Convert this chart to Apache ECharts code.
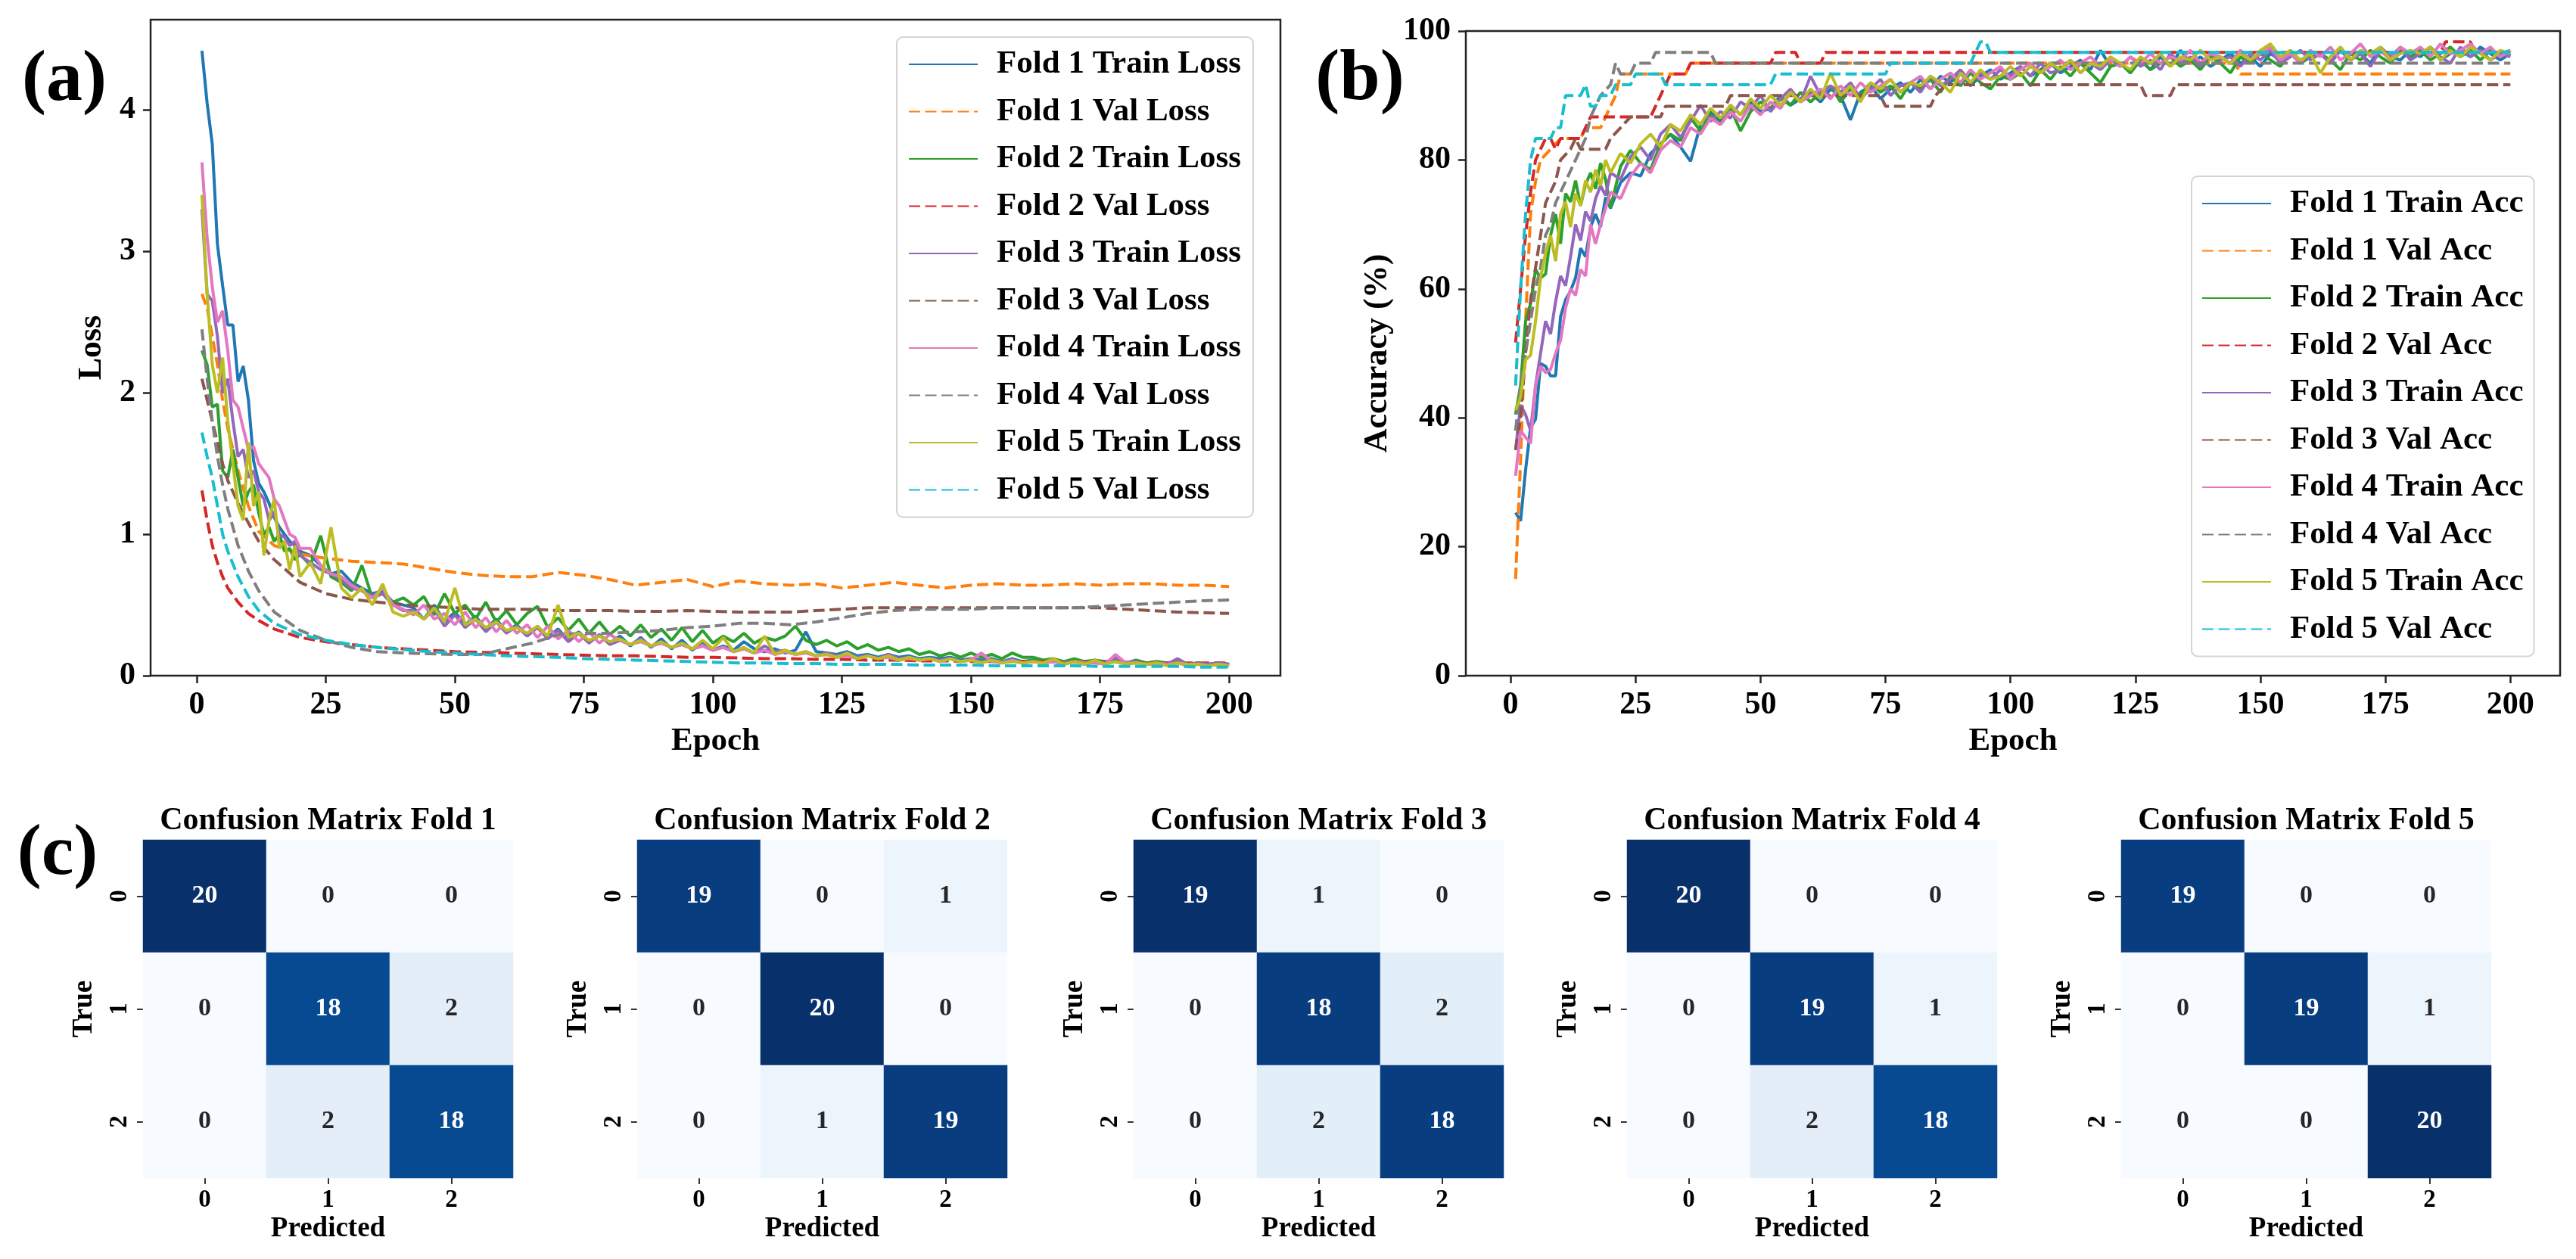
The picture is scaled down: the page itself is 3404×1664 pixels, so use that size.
<!DOCTYPE html>
<html>
<head>
<meta charset="utf-8">
<script src="https://cdn.jsdelivr.net/npm/echarts@6/dist/echarts.min.js"></script>
<style>
  html, body { margin: 0; padding: 0; background: #fff; }
  #chart { width: 3404px; height: 1664px; }
</style>
</head>
<body>
<div id="chart"></div>
<script>
const epochs = [
  1, 2, 3, 4, 5, 6, 7, 8, 9, 10, 11, 12, 13, 14, 15, 16, 17, 18, 19, 20,
  22, 24, 26, 28, 30, 32, 34, 36, 38, 40,
  42, 44, 46, 48, 50, 52, 54, 56, 58, 60,
  62, 64, 66, 68, 70, 72, 74, 76, 78, 80,
  82, 84, 86, 88, 90, 92, 94, 96, 98, 100,
  102, 104, 106, 108, 110, 112, 114, 116, 118, 120,
  122, 124, 126, 128, 130, 132, 134, 136, 138, 140,
  142, 144, 146, 148, 150, 152, 154, 156, 158, 160,
  162, 164, 166, 168, 170, 172, 174, 176, 178, 180,
  182, 184, 186, 188, 190, 192, 194, 196, 198, 200
]

const trainLoss1 = [
  4.42, 4.05, 3.76, 3.05, 2.76, 2.48, 2.48, 2.08, 2.19, 1.95, 1.52, 1.36, 1.30, 1.22, 1.12, 1.05, 1.00, 0.95, 0.92, 0.88,
  0.85, 0.78, 0.72, 0.74, 0.66, 0.62, 0.58, 0.60, 0.52, 0.50,
  0.48, 0.40, 0.50, 0.38, 0.45, 0.36, 0.42, 0.33, 0.40, 0.31,
  0.36, 0.28, 0.35, 0.27, 0.33, 0.25, 0.31, 0.24, 0.29, 0.23,
  0.28, 0.21, 0.27, 0.20, 0.26, 0.19, 0.25, 0.18, 0.24, 0.18,
  0.21, 0.18, 0.24, 0.19, 0.17, 0.19, 0.16, 0.18, 0.31, 0.17,
  0.16, 0.15, 0.17, 0.14, 0.15, 0.13, 0.15, 0.13, 0.14, 0.12,
  0.13, 0.12, 0.13, 0.11, 0.12, 0.11, 0.12, 0.10, 0.12, 0.10,
  0.11, 0.10, 0.11, 0.09, 0.10, 0.09, 0.11, 0.09, 0.10, 0.09,
  0.10, 0.08, 0.09, 0.08, 0.10, 0.08, 0.09, 0.08, 0.09, 0.08
]
const trainLoss2 = [
  2.30, 2.20, 1.90, 1.92, 1.45, 1.40, 1.60, 1.40, 1.20, 1.30, 1.35, 1.15, 1.00, 1.05, 0.95, 1.00, 0.88, 0.90, 0.82, 0.86,
  0.78, 0.99, 0.70, 0.66, 0.60, 0.78, 0.55, 0.58, 0.52, 0.55,
  0.50, 0.56, 0.43, 0.58, 0.44, 0.50, 0.40, 0.52, 0.38, 0.46,
  0.36, 0.44, 0.49, 0.34, 0.41, 0.32, 0.40, 0.30, 0.38, 0.29,
  0.35, 0.28, 0.36, 0.27, 0.33, 0.25, 0.34, 0.24, 0.32, 0.23,
  0.28, 0.24, 0.30, 0.23, 0.27, 0.25, 0.28, 0.35, 0.25, 0.22,
  0.25, 0.21, 0.24, 0.19, 0.22, 0.18, 0.20, 0.17, 0.19, 0.15,
  0.17, 0.14, 0.16, 0.13, 0.16, 0.13, 0.15, 0.12, 0.16, 0.13,
  0.13, 0.11, 0.12, 0.10, 0.12, 0.10, 0.11, 0.10, 0.11, 0.09,
  0.11, 0.09, 0.10, 0.09, 0.10, 0.08, 0.09, 0.08, 0.09, 0.08
]
const trainLoss3 = [
  3.30, 2.70, 2.65, 2.40, 2.00, 2.10, 1.80, 1.55, 1.60, 1.40, 1.45, 1.30, 1.25, 1.10, 1.15, 1.00, 0.98, 0.92, 0.95, 0.85,
  0.80, 0.75, 0.72, 0.68, 0.62, 0.60, 0.56, 0.58, 0.50, 0.46,
  0.46, 0.40, 0.47, 0.35, 0.43, 0.34, 0.40, 0.31, 0.38, 0.30,
  0.35, 0.28, 0.34, 0.26, 0.32, 0.24, 0.30, 0.23, 0.29, 0.22,
  0.25, 0.22, 0.26, 0.21, 0.23, 0.20, 0.22, 0.19, 0.21, 0.18,
  0.20, 0.17, 0.19, 0.16, 0.21, 0.17, 0.18, 0.15, 0.17, 0.14,
  0.16, 0.14, 0.15, 0.13, 0.14, 0.12, 0.15, 0.12, 0.13, 0.11,
  0.12, 0.11, 0.12, 0.10, 0.12, 0.10, 0.11, 0.10, 0.11, 0.09,
  0.10, 0.09, 0.10, 0.09, 0.10, 0.08, 0.10, 0.09, 0.13, 0.09,
  0.10, 0.08, 0.09, 0.08, 0.12, 0.08, 0.09, 0.08, 0.09, 0.08
]
const trainLoss4 = [
  3.63, 3.10, 2.75, 2.50, 2.58, 2.30, 1.95, 1.90, 1.75, 1.60, 1.62, 1.50, 1.45, 1.40, 1.25, 1.20, 1.10, 1.00, 0.98, 0.90,
  0.90, 0.78, 0.72, 0.70, 0.64, 0.60, 0.55, 0.62, 0.50, 0.47,
  0.43, 0.50, 0.40, 0.44, 0.36, 0.45, 0.34, 0.41, 0.31, 0.39,
  0.30, 0.36, 0.27, 0.35, 0.26, 0.32, 0.24, 0.31, 0.23, 0.29,
  0.25, 0.22, 0.24, 0.21, 0.23, 0.20, 0.22, 0.19, 0.21, 0.18,
  0.20, 0.17, 0.19, 0.16, 0.18, 0.15, 0.17, 0.15, 0.16, 0.14,
  0.15, 0.13, 0.14, 0.12, 0.14, 0.12, 0.13, 0.11, 0.12, 0.11,
  0.12, 0.10, 0.12, 0.10, 0.11, 0.16, 0.10, 0.09, 0.11, 0.09,
  0.10, 0.09, 0.10, 0.08, 0.10, 0.09, 0.09, 0.08, 0.15, 0.09,
  0.09, 0.08, 0.09, 0.08, 0.09, 0.07, 0.08, 0.07, 0.08, 0.07
]
const trainLoss5 = [
  3.40, 2.70, 2.20, 2.00, 2.25, 1.80, 1.50, 1.20, 1.10, 1.65, 1.20, 1.30, 0.85, 1.10, 1.25, 0.90, 0.95, 0.75, 0.92, 0.70,
  0.80, 0.65, 1.05, 0.62, 0.55, 0.62, 0.50, 0.65, 0.45, 0.42,
  0.45, 0.40, 0.48, 0.38, 0.62, 0.36, 0.40, 0.34, 0.38, 0.32,
  0.34, 0.30, 0.35, 0.28, 0.50, 0.27, 0.30, 0.25, 0.28, 0.24,
  0.26, 0.22, 0.25, 0.21, 0.24, 0.20, 0.23, 0.19, 0.25, 0.19,
  0.27, 0.17, 0.20, 0.16, 0.28, 0.15, 0.18, 0.15, 0.17, 0.14,
  0.15, 0.13, 0.16, 0.12, 0.14, 0.12, 0.14, 0.11, 0.13, 0.11,
  0.12, 0.10, 0.12, 0.10, 0.11, 0.09, 0.11, 0.09, 0.10, 0.09,
  0.10, 0.09, 0.12, 0.08, 0.10, 0.08, 0.11, 0.08, 0.10, 0.08,
  0.09, 0.08, 0.09, 0.07, 0.09, 0.08, 0.08, 0.07, 0.08, 0.07
]

// val loss is smooth, read at fewer epochs
const valLossEpochs = [
  1, 2, 3, 4, 5, 6, 8, 10, 12, 15,
  20, 25, 30, 35, 40, 45, 50, 55, 60, 65,
  70, 75, 80, 85, 90, 95, 100, 105, 110, 115,
  120, 125, 130, 135, 140, 145, 150, 155, 160, 165,
  170, 175, 180, 185, 190, 195, 200
]
const valLoss1 = [
  2.70, 2.60, 2.40, 2.20, 1.95, 1.75, 1.45, 1.20, 1.02, 0.92,
  0.86, 0.83, 0.81, 0.80, 0.79, 0.76, 0.73, 0.71, 0.70, 0.70,
  0.73, 0.71, 0.68, 0.64, 0.66, 0.68, 0.63, 0.67, 0.65, 0.64,
  0.65, 0.62, 0.64, 0.66, 0.64, 0.62, 0.64, 0.65, 0.64, 0.64,
  0.65, 0.64, 0.65, 0.65, 0.64, 0.64, 0.63
]
const valLoss2 = [
  1.31, 1.10, 0.92, 0.80, 0.70, 0.62, 0.52, 0.44, 0.39, 0.33,
  0.27, 0.24, 0.22, 0.20, 0.19, 0.18, 0.17, 0.165, 0.16, 0.155,
  0.15, 0.145, 0.14, 0.14, 0.135, 0.13, 0.13, 0.125, 0.12, 0.12,
  0.115, 0.115, 0.11, 0.11, 0.105, 0.105, 0.10, 0.10, 0.10, 0.10,
  0.095, 0.095, 0.095, 0.09, 0.09, 0.09, 0.09
]
const valLoss3 = [
  2.10, 1.95, 1.80, 1.65, 1.50, 1.38, 1.22, 1.08, 0.95, 0.82,
  0.66, 0.58, 0.54, 0.52, 0.50, 0.49, 0.48, 0.47, 0.47, 0.47,
  0.46, 0.46, 0.46, 0.455, 0.455, 0.46, 0.455, 0.45, 0.45, 0.45,
  0.46, 0.47, 0.48, 0.48, 0.48, 0.48, 0.48, 0.48, 0.48, 0.48,
  0.48, 0.48, 0.47, 0.46, 0.45, 0.445, 0.44
]
const valLoss4 = [
  2.45, 2.10, 1.80, 1.55, 1.35, 1.18, 0.92, 0.74, 0.60, 0.45,
  0.32, 0.25, 0.20, 0.17, 0.16, 0.155, 0.15, 0.15, 0.19, 0.23,
  0.29, 0.30, 0.30, 0.31, 0.32, 0.34, 0.35, 0.37, 0.37, 0.36,
  0.38, 0.41, 0.44, 0.46, 0.47, 0.47, 0.47, 0.48, 0.48, 0.48,
  0.48, 0.49, 0.50, 0.51, 0.52, 0.53, 0.535
]
const valLoss5 = [
  1.72, 1.55, 1.40, 1.20, 1.00, 0.88, 0.70, 0.56, 0.46, 0.37,
  0.29, 0.25, 0.22, 0.20, 0.185, 0.17, 0.16, 0.15, 0.14, 0.135,
  0.13, 0.12, 0.115, 0.11, 0.105, 0.10, 0.095, 0.09, 0.09, 0.085,
  0.085, 0.08, 0.08, 0.08, 0.075, 0.075, 0.075, 0.07, 0.07, 0.07,
  0.07, 0.065, 0.065, 0.065, 0.065, 0.06, 0.06
]

const trainAcc1 = [
  25.3, 24.0, 31.9, 38.5, 39.8, 48.4, 48.0, 46.5, 46.5, 55.7, 58.3, 59.7, 61.7, 66.3, 65.0, 69.6, 71.6, 69.6, 74.2, 72.5,
  76.5, 78.0, 77.5, 81.0, 82.5, 84.0, 82.0, 79.8, 85.5, 87.5,
  86.0, 88.5, 87.0, 89.0, 87.5, 88.0, 90.0, 88.5, 89.5, 90.5,
  89.0, 91.0, 90.0, 86.2, 90.5, 91.5, 89.5, 91.0, 92.0, 90.5,
  92.5, 91.0, 93.0, 92.0, 93.5, 91.5, 93.0, 94.0, 92.5, 93.5,
  94.5, 93.0, 94.0, 95.0, 93.5, 94.5, 95.5, 94.0, 97.0, 94.5,
  95.0, 93.5, 95.5, 94.0, 96.0, 94.5, 97.0, 95.0, 96.0, 94.5,
  95.5, 96.5, 95.0, 96.0, 94.5, 96.5, 95.5, 97.0, 95.0, 96.0,
  96.5, 95.0, 97.0, 95.5, 96.5, 95.0, 97.5, 96.0, 95.5, 97.0,
  96.0, 97.5, 95.5, 96.5, 97.0, 96.0, 97.5, 96.5, 95.5, 96.5
]
const trainAcc2 = [
  40.5, 45.0, 55.0, 57.7, 63.0, 61.7, 62.3, 68.3, 71.6, 67.0, 74.8, 73.5, 76.8, 72.9, 76.2, 78.0, 75.5, 79.5, 77.0, 72.6,
  79.0, 81.5, 79.5, 78.5, 82.5, 84.0, 83.0, 86.5, 84.5, 87.0,
  85.5, 88.0, 84.5, 87.5, 89.0, 88.0, 89.5, 88.5, 90.5, 89.0,
  90.5, 91.5, 89.0, 91.0, 90.0, 92.0, 90.5, 91.5, 89.5, 92.0,
  91.0, 92.5, 90.5, 93.0, 91.5, 93.5, 92.0, 91.0, 93.0, 92.5,
  93.5, 91.5, 94.0, 92.5, 94.5, 93.0, 95.0, 93.5, 92.0, 94.5,
  95.0, 93.5, 95.5, 94.0, 95.0, 96.0, 94.5, 95.5, 94.0, 96.0,
  95.0, 93.5, 96.0, 95.0, 96.5, 95.5, 94.5, 96.5, 95.0, 96.0,
  96.5, 95.5, 94.0, 96.5, 95.5, 97.0, 96.0, 95.0, 97.0, 96.0,
  97.0, 95.5, 96.5, 97.5, 96.0, 97.0, 95.5, 97.0, 96.5, 97.0
]
const trainAcc3 = [
  35.0, 42.0, 40.5, 38.0, 45.0, 50.0, 55.0, 53.0, 58.0, 62.0, 60.5, 65.0, 70.0, 67.5, 72.0, 70.5, 74.0, 76.0, 74.5, 78.0,
  77.0, 80.5, 82.0, 80.0, 84.0, 85.5, 83.5, 86.0, 88.5, 86.0,
  87.5, 86.5, 89.0, 88.0, 90.0, 87.5, 89.5, 91.0, 89.0, 93.0,
  90.0, 91.5, 90.5, 92.0, 89.5, 91.0, 92.5, 90.0, 91.5, 92.0,
  90.5, 93.0, 91.5, 92.5, 94.0, 92.0, 93.5, 92.5, 94.0, 93.0,
  94.5, 93.0, 95.0, 93.5, 94.0, 95.5, 93.5, 95.0, 94.0, 95.5,
  94.5, 96.0, 94.5, 95.5, 94.0, 96.5, 95.0, 96.0, 94.5, 96.5,
  95.5, 96.0, 94.5, 96.5, 95.5, 97.0, 95.0, 96.0, 97.0, 95.5,
  96.5, 95.0, 97.5, 95.5, 96.5, 94.5, 97.0, 96.0, 97.5, 95.5,
  96.5, 97.5, 96.0, 95.0, 97.5, 96.0, 97.0, 95.5, 96.5, 96.0
]
const trainAcc4 = [
  31.0, 38.0, 37.0, 36.0, 45.0, 48.0, 47.0, 47.5, 50.0, 52.0, 57.0, 60.0, 59.0, 63.0, 62.0, 70.0, 67.0, 70.0, 72.5, 75.0,
  74.0, 77.5, 79.5, 78.0, 81.5, 83.0, 82.0, 85.0, 84.0, 86.5,
  85.5, 87.5, 86.0, 88.5, 87.0, 89.0, 88.0, 90.5, 89.0, 90.0,
  91.0, 89.5, 91.5, 90.0, 92.0, 90.5, 91.5, 92.5, 90.5, 92.0,
  93.0, 91.0, 92.5, 93.5, 92.0, 94.0, 92.5, 93.5, 94.5, 92.5,
  94.0, 95.0, 93.5, 94.5, 95.5, 94.0, 95.0, 96.0, 94.5, 95.5,
  94.5, 96.0, 95.0, 96.5, 95.0, 96.0, 95.5, 97.0, 95.0, 96.5,
  96.0, 95.0, 97.0, 95.5, 96.5, 97.5, 95.5, 96.5, 95.0, 97.0,
  96.0, 97.5, 95.5, 96.5, 98.0, 96.0, 97.0, 95.5, 97.5, 96.5,
  97.5, 96.0, 98.0, 96.5, 97.0, 98.0, 96.5, 97.5, 96.0, 97.0
]
const trainAcc5 = [
  41.2, 43.2, 49.0, 49.7, 55.0, 61.7, 65.6, 68.3, 64.3, 71.6, 73.5, 69.6, 74.8, 72.9, 76.8, 75.0, 78.5, 76.0, 80.0, 78.0,
  81.0, 79.5, 82.5, 84.0, 82.0, 85.5, 84.5, 87.0, 85.5, 88.0,
  86.5, 88.5, 87.0, 89.5, 88.0, 90.0, 88.5, 90.5, 89.0, 91.0,
  89.5, 93.5, 90.0, 91.5, 89.0, 92.0, 91.0, 92.5, 90.5, 92.0,
  91.5, 93.0, 92.0, 90.5, 93.5, 92.0, 94.0, 92.5, 93.0, 94.5,
  93.0, 94.5, 93.5, 95.0, 94.0, 95.5, 93.5, 95.0, 94.5, 96.0,
  95.0, 94.0, 96.0, 95.0, 96.5, 94.5, 96.0, 95.5, 97.0, 95.5,
  96.0, 95.0, 96.5, 95.5, 97.0, 98.0, 96.0, 97.0, 95.5, 96.5,
  93.5, 96.0, 97.5, 95.5, 97.0, 96.5, 97.5, 95.5, 96.5, 97.0,
  96.5, 97.5, 95.5, 97.0, 96.0, 97.5, 96.5, 95.5, 97.0, 96.5
]

// val accuracy moves in steps of one validation sample: [epoch, %] at each change
const valAcc1 = [
  [1, 15], [2, 33.33], [3, 55], [4, 71.67], [5, 76.67], [6, 80], [8, 81.67], [10, 83.33], [14, 83.33],
  [15, 85], [18, 85], [19, 86.67], [20, 88.33], [21, 90], [22, 93.33], [35, 93.33], [36, 95],
  [145, 95], [146, 93.33], [200, 93.33]
]
const valAcc2 = [
  [1, 51.67], [2, 60], [3, 68.33], [4, 75], [5, 80], [6, 81.67], [7, 83.33], [8, 83.33], [9, 81.67],
  [10, 83.33], [14, 83.33], [15, 85], [16, 86.67], [28, 86.67], [29, 88.33], [31, 91.67], [32, 93.33],
  [35, 93.33], [36, 95], [52, 95], [53, 96.67], [57, 96.67], [58, 95], [62, 95], [63, 96.67],
  [186, 96.67], [187, 98.33], [192, 98.33], [193, 96.67], [200, 96.67]
]
const valAcc3 = [
  [1, 35], [2, 40], [3, 50], [4, 58.33], [5, 63.33], [6, 68.33], [7, 73.33], [8, 75], [9, 76.67],
  [10, 80], [12, 81.67], [13, 83.33], [14, 81.67], [19, 81.67], [20, 83.33], [22, 85], [24, 86.67],
  [30, 86.67], [31, 88.33], [43, 88.33], [44, 90], [74, 90], [75, 88.33], [84, 88.33], [85, 90],
  [87, 91.67], [126, 91.67], [127, 90], [132, 90], [133, 91.67], [200, 91.67]
]
const valAcc4 = [
  [1, 38], [2, 45], [3, 50], [4, 55], [5, 60], [6, 63.33], [7, 68.33], [8, 70], [9, 73.33], [10, 75],
  [12, 78.33], [14, 81.67], [15, 83.33], [16, 86.67], [17, 88.33], [18, 90], [20, 91.67], [21, 95],
  [22, 93.33], [24, 93.33], [25, 95], [28, 95], [29, 96.67], [40, 96.67], [41, 95], [200, 95]
]
const valAcc5 = [
  [1, 45], [2, 60], [3, 71.67], [4, 80], [5, 83.33], [8, 83.33], [9, 85], [10, 85], [11, 90], [14, 90],
  [15, 91.67], [16, 88.33], [17, 88.33], [18, 90], [20, 90], [21, 91.67], [24, 91.67], [25, 93.33],
  [30, 93.33], [31, 91.67], [52, 91.67], [53, 93.33], [75, 93.33], [76, 95], [92, 95], [93, 96.67],
  [94, 98.33], [95, 98.33], [96, 96.67], [200, 96.67]
]

// confusion matrices, rows = true class, cols = predicted
const classLabels = ['0', '1', '2']
const cm1 = [[20, 0, 0], [0, 18, 2], [0, 2, 18]]
const cm2 = [[19, 0, 1], [0, 20, 0], [0, 1, 19]]
const cm3 = [[19, 1, 0], [0, 18, 2], [0, 2, 18]]
const cm4 = [[20, 0, 0], [0, 19, 1], [0, 2, 18]]
const cm5 = [[19, 0, 0], [0, 19, 1], [0, 0, 20]]

const lossTicks = [0, 1, 2, 3, 4]
const epochTicks = [0, 25, 50, 75, 100, 125, 150, 175, 200]

// ---- styling ----
const FONT = "'Liberation Serif', 'Times New Roman', serif"
const tab10 = ['#1f77b4', '#ff7f0e', '#2ca02c', '#d62728', '#9467bd', '#8c564b', '#e377c2', '#7f7f7f', '#bcbd22', '#17becf']
const blues = ['#f7fbff', '#deebf7', '#c6dbef', '#9ecae1', '#6baed6', '#4292c6', '#2171b5', '#08519c', '#08306b']
const DASH = [15, 6.5]
const LW = 4
const AXC = '#222'

const txt = (size) => ({ fontFamily: FONT, fontWeight: 'bold', fontSize: size, color: '#000' })

function lineSeries(name, data, color, dashed, idx) {
  return {
    name,
    type: 'line',
    xAxisIndex: idx,
    yAxisIndex: idx,
    data,
    symbol: 'none',
    showSymbol: false,
    silent: true,
    lineStyle: { color, width: LW, type: dashed ? DASH : 'solid' },
    itemStyle: { color },
    emphasis: { disabled: true },
  }
}

const withEpochs = (vals) => vals.map((v, k) => [epochs[k], v])
const withValEpochs = (vals) => vals.map((v, k) => [valLossEpochs[k], v])

const trainLosses = [trainLoss1, trainLoss2, trainLoss3, trainLoss4, trainLoss5]
const valLosses = [valLoss1, valLoss2, valLoss3, valLoss4, valLoss5]
const trainAccs = [trainAcc1, trainAcc2, trainAcc3, trainAcc4, trainAcc5]
const valAccs = [valAcc1, valAcc2, valAcc3, valAcc4, valAcc5]
const matrices = [cm1, cm2, cm3, cm4, cm5]

const series = []
const lossNames = []
const accNames = []
for (let f = 0; f < 5; f++) {
  const tn = `Fold ${f + 1} Train Loss`
  const vn = `Fold ${f + 1} Val Loss`
  lossNames.push(tn, vn)
  series.push(lineSeries(tn, withEpochs(trainLosses[f]), tab10[2 * f], false, 0))
  series.push(lineSeries(vn, withValEpochs(valLosses[f]), tab10[2 * f + 1], true, 0))
}
for (let f = 0; f < 5; f++) {
  const tn = `Fold ${f + 1} Train Acc`
  const vn = `Fold ${f + 1} Val Acc`
  accNames.push(tn, vn)
  series.push(lineSeries(tn, withEpochs(trainAccs[f]), tab10[2 * f], false, 1))
  series.push(lineSeries(vn, valAccs[f], tab10[2 * f + 1], true, 1))
}

const frame = { show: true, borderColor: AXC, borderWidth: 2.5, backgroundColor: '#fff' }
const grid = [
  { left: 199, top: 26, width: 1493, height: 867, ...frame },
  { left: 1937, top: 41, width: 1446, height: 852, ...frame },
]

// axis line hidden (grid border draws the box); onZero off so ticks stay on the frame
const noLine = { show: false, onZero: false }

function epochAxis(idx) {
  return {
    type: 'value', gridIndex: idx, min: -8.95, max: 209.95,
    name: 'Epoch', nameLocation: 'middle', nameGap: 62, nameTextStyle: txt(43),
    axisLine: noLine,
    axisTick: { show: true, length: 10, customValues: epochTicks, lineStyle: { color: AXC, width: 2.5 } },
    axisLabel: { customValues: epochTicks, margin: 18, ...txt(42) },
    splitLine: { show: false },
  }
}
const xAxis = [epochAxis(0), epochAxis(1)]
const yAxis = [
  {
    type: 'value', gridIndex: 0, min: 0, max: 4.64,
    name: 'Loss', nameLocation: 'middle', nameGap: 55, nameTextStyle: txt(44),
    axisLine: noLine,
    axisTick: { show: true, length: 10, customValues: lossTicks, lineStyle: { color: AXC, width: 2.5 } },
    axisLabel: { customValues: lossTicks, margin: 20, ...txt(42) },
    splitLine: { show: false },
  },
  {
    type: 'value', gridIndex: 1, min: 0, max: 100, interval: 20,
    name: 'Accuracy (%)', nameLocation: 'middle', nameGap: 94, nameTextStyle: txt(44),
    axisLine: noLine,
    axisTick: { show: true, length: 10, lineStyle: { color: AXC, width: 2.5 } },
    axisLabel: { margin: 20, ...txt(42) },
    splitLine: { show: false },
  },
]

const legendBase = {
  orient: 'vertical',
  selectedMode: false,
  itemWidth: 91,
  itemHeight: 14,
  itemGap: 18.5,
  itemStyle: { opacity: 0 },
  backgroundColor: 'rgba(255,255,255,0.85)',
  borderColor: '#d4d4d4',
  borderWidth: 2,
  borderRadius: 8,
  textStyle: { ...txt(43), lineHeight: 44, padding: [0, 0, 0, 20] },
}
const legend = [
  { ...legendBase, data: lossNames, left: 1185, top: 49, padding: [14, 16, 14, 15] },
  { ...legendBase, data: accNames, left: 2896, top: 233, padding: [14, 14, 14, 13] },
]

// confusion matrix panels
const cmLeft = [189, 842, 1498, 2150, 2803]
const CM_TOP = 1110, CM_W = 489, CM_H = 447
const visualMap = []
const graphic = []
matrices.forEach((m, i) => {
  const gi = i + 2
  const maxV = Math.max(...m.flat())
  grid.push({ left: cmLeft[i], top: CM_TOP, width: CM_W, height: CM_H })
  xAxis.push({
    type: 'category', gridIndex: gi, data: classLabels, position: 'bottom',
    name: 'Predicted', nameLocation: 'middle', nameGap: 49, nameTextStyle: txt(37),
    axisLine: noLine,
    axisTick: { show: true, alignWithLabel: true, length: 8, lineStyle: { color: '#333', width: 2 } },
    axisLabel: { margin: 13, ...txt(33) },
    splitLine: { show: false },
  })
  yAxis.push({
    type: 'category', gridIndex: gi, data: classLabels, inverse: true,
    name: 'True', nameLocation: 'middle', nameGap: 59, nameTextStyle: txt(37),
    axisLine: noLine,
    axisTick: { show: true, alignWithLabel: true, length: 8, lineStyle: { color: '#333', width: 2 } },
    axisLabel: { margin: 14, rotate: 90, ...txt(33) },
    splitLine: { show: false },
  })
  const cells = []
  m.forEach((row, r) => row.forEach((v, c) => {
    cells.push({ value: [c, r, v], label: { color: v > maxV / 2 ? '#ffffff' : '#262626' } })
  }))
  visualMap.push({
    type: 'continuous', show: false, min: 0, max: maxV, dimension: 2,
    seriesIndex: series.length, inRange: { color: blues },
  })
  series.push({
    type: 'heatmap', xAxisIndex: gi, yAxisIndex: gi, data: cells, silent: true,
    itemStyle: { borderWidth: 0 },
    label: { show: true, fontFamily: FONT, fontWeight: 'bold', fontSize: 34 },
    emphasis: { disabled: true },
  })
  graphic.push({
    type: 'text', x: cmLeft[i] + CM_W / 2, y: 1085,
    style: { text: `Confusion Matrix Fold ${i + 1}`, align: 'center', verticalAlign: 'middle', ...txt(42), fill: '#000' },
  })
})

const panelLabels = [['(a)', 85, 107], ['(b)', 1797, 106], ['(c)', 76, 1130]]
panelLabels.forEach(([t, x, y]) => {
  graphic.push({
    type: 'text', x, y,
    style: { text: t, align: 'center', verticalAlign: 'middle', ...txt(96), fill: '#000' },
  })
})

const chart = echarts.init(document.getElementById('chart'))
chart.setOption({
  animation: false,
  backgroundColor: '#fff',
  grid,
  xAxis,
  yAxis,
  legend,
  visualMap,
  series,
  graphic,
})
</script>
</body>
</html>
